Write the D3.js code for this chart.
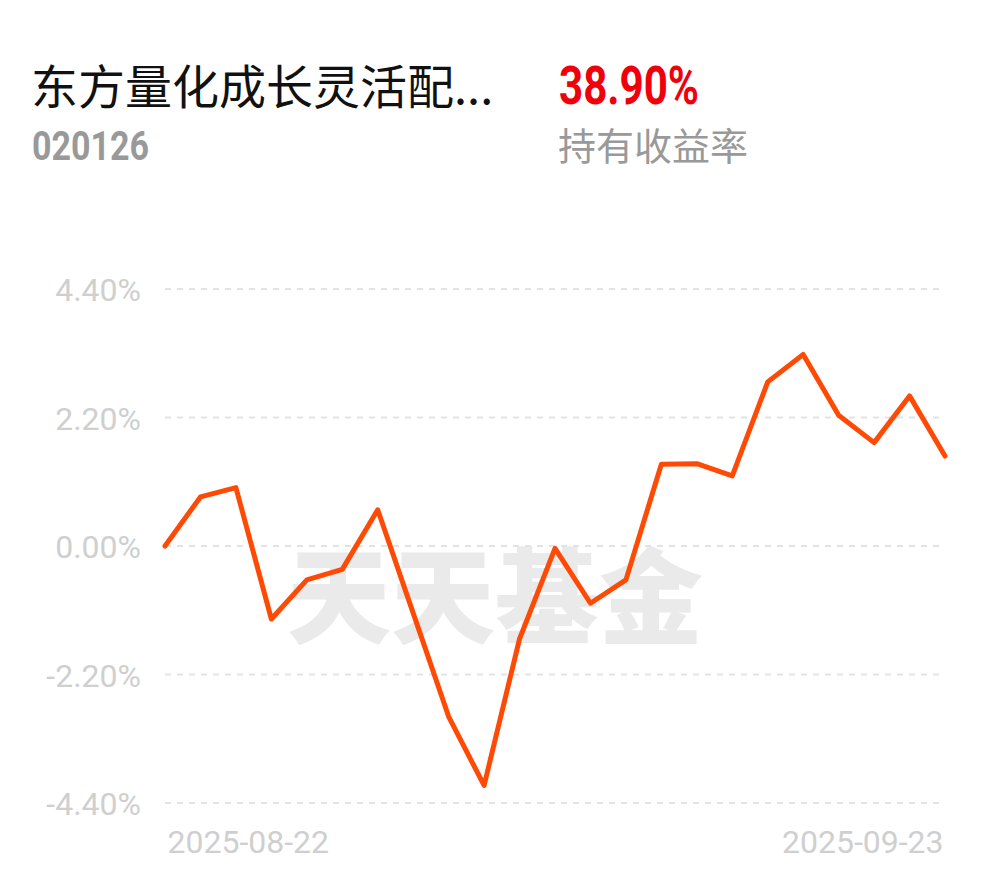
<!DOCTYPE html>
<html>
<head>
<meta charset="utf-8">
<script src="https://cdn.jsdelivr.net/npm/d3@7/dist/d3.min.js"></script>
<style>
html,body{margin:0;padding:0;background:#fff;}
svg{display:block;}
</style>
</head>
<body>
<div id="chart"></div>
<script>
const dates = ["2025-08-22","2025-08-25","2025-08-26","2025-08-27","2025-08-28","2025-08-29",
  "2025-09-01","2025-09-02","2025-09-03","2025-09-04","2025-09-05",
  "2025-09-08","2025-09-09","2025-09-10","2025-09-11","2025-09-12",
  "2025-09-15","2025-09-16","2025-09-17","2025-09-18","2025-09-19",
  "2025-09-22","2025-09-23"];
const returns = [0.00, 0.84, 1.00, -1.25, -0.58, -0.40, 0.62, -1.15, -2.92, -4.10, -1.59,
  -0.04, -0.98, -0.58, 1.40, 1.41, 1.20, 2.81, 3.28, 2.24, 1.77, 2.57, 1.54];
const yTicks = [4.4, 2.2, 0, -2.2, -4.4];
const xTickLabels = ["2025-08-22", "2025-09-23"];
const fundName = "东方量化成长灵活配...";
const fundCode = "020126";
const holdReturn = "38.90%";
const holdLabel = "持有收益率";
const watermark = "天天基金";

const W = 990, H = 878;
const svg = d3.select("#chart").append("svg").attr("width", W).attr("height", H);

const x = d3.scalePoint().domain(dates).range([165, 945]);
const y = d3.scaleLinear().domain([-4.4, 4.4]).range([803, 289]);

// header
svg.append("text").attr("x", 31).attr("y", 104)
  .attr("font-family", "'Noto Sans CJK SC'").attr("font-size", 47).attr("fill", "#111")
  .text(fundName);
svg.append("text").attr("x", 32).attr("y", 160)
  .attr("font-family", "Roboto").attr("font-weight", 700).attr("font-size", 41).attr("fill", "#999")
  .attr("textLength", 117).attr("lengthAdjust", "spacingAndGlyphs")
  .text(fundCode);
svg.append("text").attr("x", 559).attr("y", 104)
  .attr("font-family", "Roboto").attr("font-weight", 700).attr("font-size", 54).attr("fill", "#f0000a")
  .attr("textLength", 140).attr("lengthAdjust", "spacingAndGlyphs")
  .text(holdReturn);
svg.append("text").attr("x", 558).attr("y", 160)
  .attr("font-family", "'Noto Sans CJK SC'").attr("font-size", 38).attr("fill", "#999")
  .text(holdLabel);

// watermark
svg.append("text").attr("x", 495).attr("y", 590)
  .attr("text-anchor", "middle").attr("dominant-baseline", "central")
  .attr("font-family", "'Noto Sans CJK SC'").attr("font-weight", 900).attr("font-size", 104)
  .attr("fill", "#eaeaea")
  .text(watermark);

// grid
const yAxis = d3.axisLeft(y).tickValues(yTicks).tickSize(0).tickPadding(0)
  .tickFormat(d => (d < 0 ? "-" : "") + Math.abs(d).toFixed(2) + "%");
const gy = svg.append("g").attr("transform", "translate(141,0)").call(yAxis);
gy.select(".domain").remove();
gy.selectAll("text").attr("font-family", "Roboto").attr("font-size", 32).attr("fill", "#cfcfcf")
  .attr("dy", "0.36em").attr("text-anchor", "end");

svg.append("g").selectAll("line").data(yTicks).join("line")
  .attr("x1", 165).attr("x2", 942)
  .attr("y1", d => y(d)).attr("y2", d => y(d))
  .attr("stroke", "#e3e3e3").attr("stroke-width", 2).attr("stroke-dasharray", "6,6");

// x labels
const xAxis = d3.axisBottom(x).tickValues(xTickLabels).tickSize(0).tickPadding(0);
const gx = svg.append("g").attr("transform", "translate(0,853)").call(xAxis);
gx.select(".domain").remove();
gx.selectAll("text").attr("font-family", "Roboto").attr("font-size", 32).attr("fill", "#cfcfcf")
  .attr("dy", 0).attr("y", 0)
  .attr("text-anchor", (d, i) => i === 0 ? "start" : "end")
  .attr("x", (d, i) => i === 0 ? 2 : -2);

// line
const line = d3.line().x((d, i) => x(dates[i])).y(d => y(d));
svg.append("path").datum(returns).attr("d", line)
  .attr("fill", "none").attr("stroke", "#ff4a06").attr("stroke-width", 5)
  .attr("stroke-linejoin", "round").attr("stroke-linecap", "round");
</script>
</body>
</html>
